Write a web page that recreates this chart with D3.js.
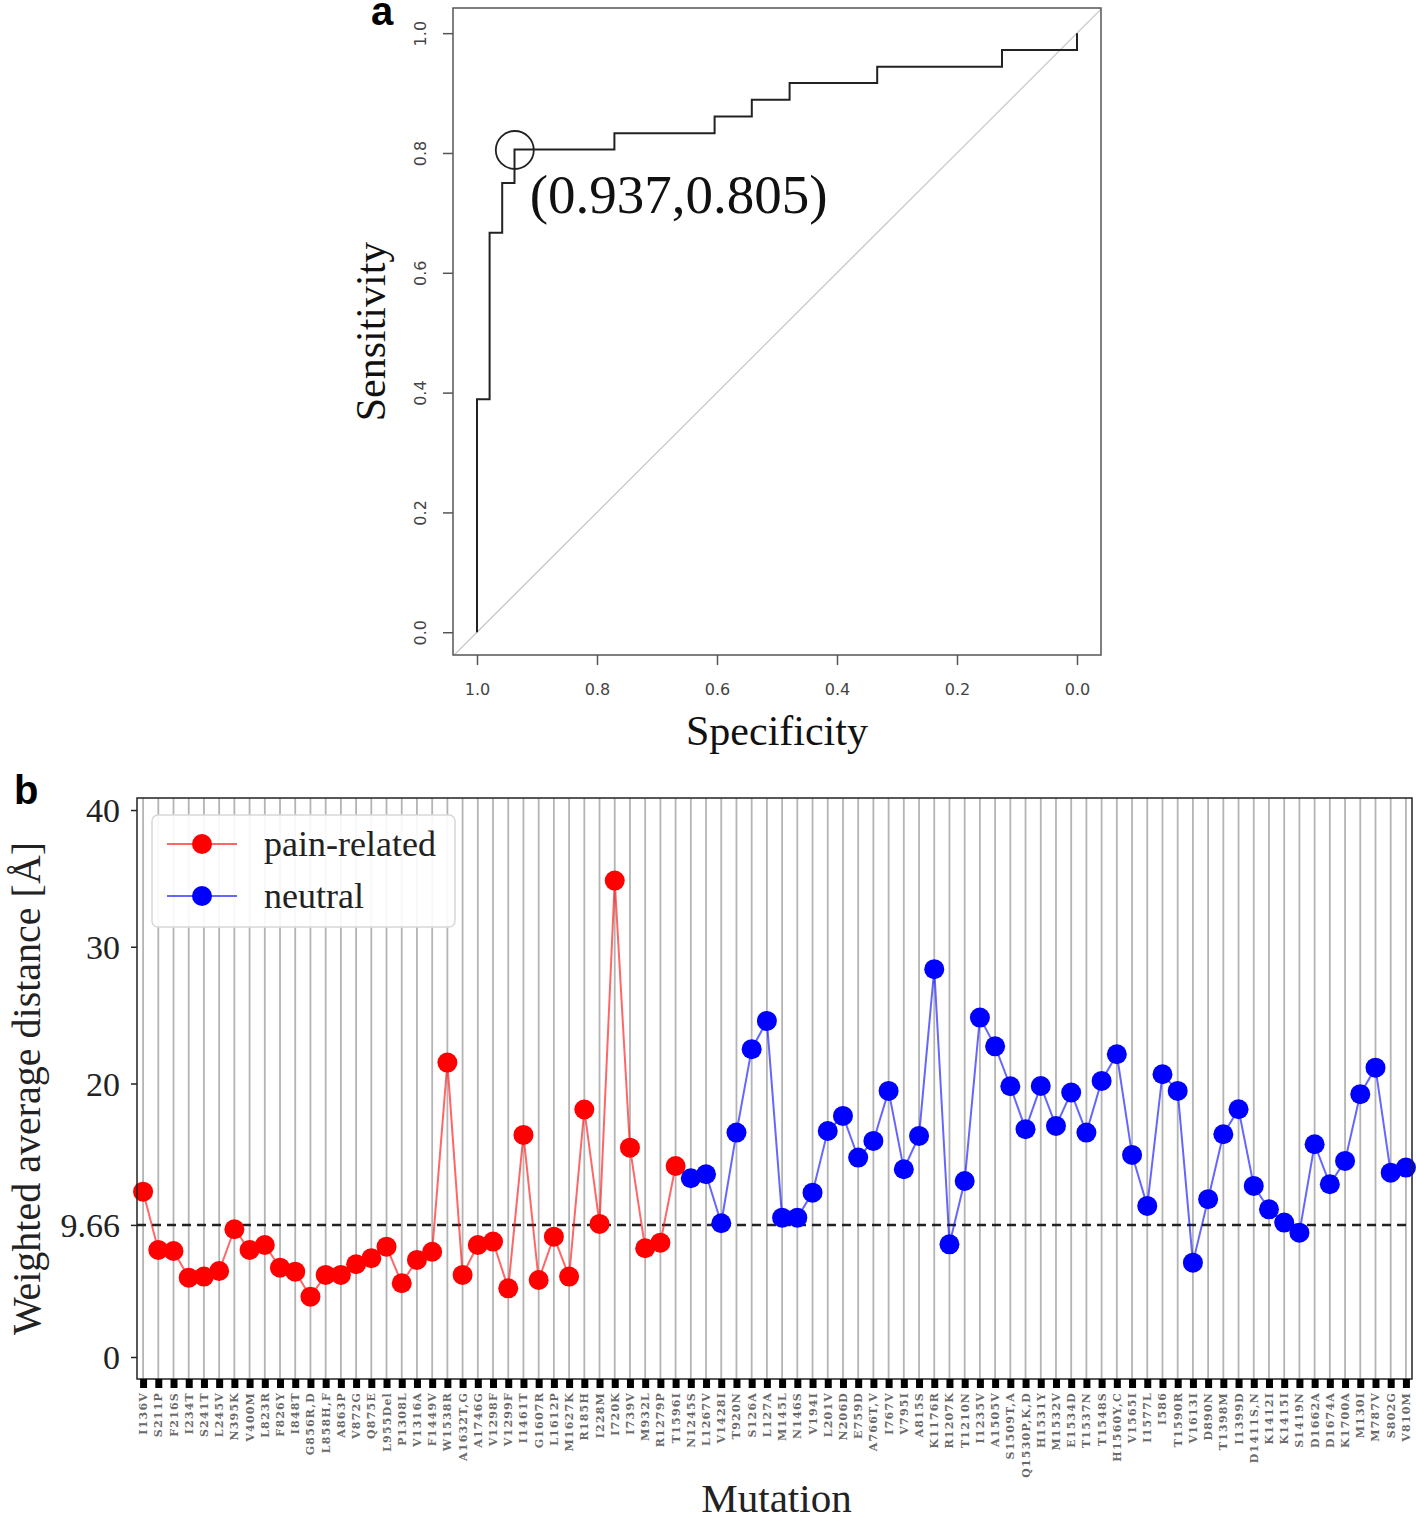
<!DOCTYPE html>
<html><head><meta charset="utf-8">
<script src="https://cdn.jsdelivr.net/npm/d3@7"></script>
<style>body{margin:0;background:#fff}svg{display:block}</style>
</head><body><svg id="c" width="1416" height="1523"></svg>
<script>
// ---------- Data ----------
const painLabels = ["I136V","S211P","F216S","I234T","S241T","L245V","N395K","V400M","L823R","F826Y","I848T","G856R,D","L858H,F","A863P","V872G","Q875E","L955Del","P1308L","V1316A","F1449V","W1538R","A1632T,G","A1746G","V1298F","V1299F","I1461T","G1607R","L1612P","M1627K","R185H","I228M","I720K","I739V","M932L","R1279P","T1596I"];
const painValues = [12.09,7.83,7.75,5.80,5.88,6.29,9.34,7.83,8.19,6.53,6.24,4.41,6.00,6.00,6.78,7.22,8.07,5.39,7.10,7.70,21.53,6.00,8.19,8.44,5.02,16.24,5.63,8.80,5.88,18.10,9.73,34.84,15.31,7.95,8.36,13.97];
const neutralLabels = ["N1245S","L1267V","V1428I","T920N","S126A","L127A","M145L","N146S","V194I","L201V","N206D","E759D","A766T,V","I767V","V795I","A815S","K1176R","R1207K","T1210N","I1235V","A1505V","S1509T,A","Q1530P,K,D","H1531Y","M1532V","E1534D","T1537N","T1548S","H1560Y,C","V1565I","I1577L","I586","T1590R","V1613I","D890N","T1398M","I1399D","D1411S,N","K1412I","K1415I","S1419N","D1662A","D1674A","K1700A","M130I","M787V","S802G","V810M"];
const neutralValues = [13.07,13.36,9.78,16.41,22.51,24.58,10.19,10.19,12.02,16.53,17.63,14.58,15.80,19.46,13.73,16.17,28.36,8.24,12.87,24.82,22.72,19.80,16.66,19.82,16.90,19.34,16.41,20.19,22.14,14.78,11.05,20.68,19.46,6.90,11.54,16.29,18.12,12.51,10.80,9.83,9.09,15.56,12.63,14.34,19.22,21.16,13.48,13.85];
const distTicks = [0, 9.66, 20, 30, 40];
const threshold = 9.66;

const rocSpecificity = [1.0,1.0,0.979,0.979,0.958,0.958,0.9375,0.9375,0.771,0.771,0.604,0.604,0.542,0.542,0.479,0.479,0.333,0.333,0.125,0.125,0.0,0.0];
const rocSensitivity = [0.0,0.389,0.389,0.667,0.667,0.75,0.75,0.806,0.806,0.833,0.833,0.861,0.861,0.889,0.889,0.917,0.917,0.944,0.944,0.972,0.972,1.0];
const optimumSpec = 0.937, optimumSens = 0.805;
const rocTicks = [1.0,0.8,0.6,0.4,0.2,0.0];

const svg = d3.select("#c");
const serif = "'Liberation Serif','Times New Roman',serif";
const sans = "'DejaVu Sans',sans-serif";

// ---------- Panel a ----------
const A = {l:453, r:1101, t:8, b:655};
const xA = d3.scaleLinear().domain([1.04,-0.04]).range([A.l,A.r]);
const yA = d3.scaleLinear().domain([-0.038,1.042]).range([A.b,A.t]);
const ga = svg.append("g");

ga.append("clipPath").attr("id","clipA").append("rect").attr("x",A.l).attr("y",A.t).attr("width",A.r-A.l).attr("height",A.b-A.t);
// diagonal
ga.append("line").attr("x1",xA(1.04)).attr("y1",yA(-0.04)).attr("x2",xA(-0.04)).attr("y2",yA(1.04))
  .attr("stroke","#c8c8c8").attr("stroke-width",1.3).attr("clip-path","url(#clipA)");

// ROC curve
const rocPts = rocSpecificity.map((s,i)=>[s,rocSensitivity[i]]);
ga.append("path").datum(rocPts)
  .attr("d", d3.line().x(d=>xA(d[0])).y(d=>yA(d[1])))
  .attr("fill","none").attr("stroke","#222").attr("stroke-width",2);

// optimum circle + label
ga.append("circle").attr("cx",xA(optimumSpec)).attr("cy",yA(optimumSens)).attr("r",19)
  .attr("fill","none").attr("stroke","#222").attr("stroke-width",1.8);
ga.append("text").attr("x",xA(optimumSpec)+15).attr("y",yA(optimumSens)+63)
  .attr("font-family",serif).attr("font-size",55).attr("fill","#111")
  .text(`(${optimumSpec},${optimumSens})`);

// frame
ga.append("rect").attr("x",A.l).attr("y",A.t).attr("width",A.r-A.l).attr("height",A.b-A.t)
  .attr("fill","none").attr("stroke","#555").attr("stroke-width",1.5);

// axes
const axAx = ga.append("g").attr("transform",`translate(0,${A.b})`)
  .call(d3.axisBottom(xA).tickValues(rocTicks).tickFormat(d3.format(".1f")).tickSize(10).tickPadding(19));
axAx.select(".domain").remove();
axAx.selectAll("line").attr("stroke","#555").attr("stroke-width",1.5);
axAx.selectAll("text").attr("font-family",sans).attr("font-size",16).attr("fill","#444");

const ayAx = ga.append("g").attr("transform",`translate(${A.l},0)`)
  .call(d3.axisLeft(yA).tickValues(rocTicks).tickFormat(d3.format(".1f")).tickSize(10));
ayAx.select(".domain").remove();
ayAx.selectAll("line").attr("stroke","#555").attr("stroke-width",1.5);
ayAx.selectAll("text").attr("x",null).attr("dy",null).attr("text-anchor","middle")
  .attr("transform","translate(-27,0) rotate(-90)")
  .attr("font-family",sans).attr("font-size",16).attr("fill","#444");

ga.append("text").attr("transform",`translate(385,${(A.t+A.b)/2}) rotate(-90)`)
  .attr("text-anchor","middle").attr("font-family",serif).attr("font-size",42).attr("fill","#111").text("Sensitivity");
ga.append("text").attr("x",(A.l+A.r)/2).attr("y",745)
  .attr("text-anchor","middle").attr("font-family",serif).attr("font-size",42).attr("fill","#111").text("Specificity");
ga.append("text").attr("x",371).attr("y",25).attr("font-family","'Liberation Sans',Arial,sans-serif")
  .attr("font-weight","bold").attr("font-size",40).attr("fill","#000").text("a");

// ---------- Panel b ----------
const B = {l:137, r:1412, t:798, b:1379};
const allLabels = painLabels.concat(neutralLabels);
const nAll = allLabels.length;
const xB = d3.scaleLinear().domain([-0.4, nAll-1+0.4]).range([B.l,B.r]);
const yB = d3.scaleLinear().domain([-1.61, 40.88]).range([B.b,B.t]);
const gb = svg.append("g");

// vertical grid
gb.append("g").selectAll("line").data(d3.range(nAll)).join("line")
  .attr("x1",d=>xB(d)).attr("x2",d=>xB(d)).attr("y1",B.t).attr("y2",B.b)
  .attr("stroke","#b4b4b4").attr("stroke-width",1.8);

// threshold
gb.append("line").attr("x1",B.l).attr("x2",B.r).attr("y1",yB(threshold)).attr("y2",yB(threshold))
  .attr("stroke","#222").attr("stroke-width",2.5).attr("stroke-dasharray","9,6");

const painData = painValues.map((v,i)=>({i, v}));
const neutralData = neutralValues.map((v,i)=>({i:i+painValues.length, v}));
const lineB = d3.line().x(d=>xB(d.i)).y(d=>yB(d.v));

function series(data,color){
  gb.append("path").datum(data).attr("d",lineB).attr("fill","none")
    .attr("stroke",color).attr("stroke-opacity",0.6).attr("stroke-width",2);
  gb.append("g").selectAll("circle").data(data).join("circle")
    .attr("cx",d=>xB(d.i)).attr("cy",d=>yB(d.v)).attr("r",10).attr("fill",color);
}
series(painData,"#ff0000");
series(neutralData,"#0000ff");

// frame
gb.append("rect").attr("x",B.l).attr("y",B.t).attr("width",B.r-B.l).attr("height",B.b-B.t)
  .attr("fill","none").attr("stroke","#222").attr("stroke-width",1.5);

// x ticks and labels
const bxAx = gb.append("g").attr("transform",`translate(0,${B.b})`)
  .call(d3.axisBottom(xB).tickValues(d3.range(nAll)).tickFormat(i=>allLabels[i]).tickSize(9).tickSizeOuter(0));
bxAx.select(".domain").remove();
bxAx.selectAll("line").attr("stroke","#000").attr("stroke-width",7);
bxAx.selectAll("text").attr("y",null).attr("dy",null).attr("text-anchor","end")
  .attr("dominant-baseline","central")
  .attr("transform","translate(0,13) rotate(-90)")
  .attr("font-family","'DejaVu Serif',serif").attr("font-size",11).attr("font-weight","bold")
  .attr("letter-spacing","1.2px").attr("fill","#6a6a6a");

// y axis
const byAx = gb.append("g").attr("transform",`translate(${B.l},0)`)
  .call(d3.axisLeft(yB).tickValues(distTicks).tickFormat(d=>String(d)).tickSize(6).tickPadding(11));
byAx.select(".domain").remove();
byAx.selectAll("line").attr("stroke","#222").attr("stroke-width",1.5);
byAx.selectAll("text").attr("dy",null).attr("dominant-baseline","central")
  .attr("font-family",serif).attr("font-size",34).attr("fill","#222");

gb.append("text").attr("transform",`translate(40,${(B.t+B.b)/2}) rotate(-90)`)
  .attr("text-anchor","middle").attr("font-family",serif).attr("font-size",40).attr("fill","#222")
  .text("Weighted average distance [Å]");
gb.append("text").attr("x",(B.l+B.r)/2+2).attr("y",1512).attr("text-anchor","middle")
  .attr("font-family",serif).attr("font-size",41).attr("fill","#222").text("Mutation");
gb.append("text").attr("x",14).attr("y",804).attr("font-family","'Liberation Sans',Arial,sans-serif")
  .attr("font-weight","bold").attr("font-size",40).attr("fill","#000").text("b");

// legend
const lg = gb.append("g");
lg.append("rect").attr("x",152).attr("y",815).attr("width",303).attr("height",112).attr("rx",6)
  .attr("fill","#fff").attr("fill-opacity",0.9).attr("stroke","#d8d8d8").attr("stroke-width",1.5);
const legendItems = [{name:"pain-related",color:"#ff0000",y:844},{name:"neutral",color:"#0000ff",y:896}];
legendItems.forEach(it=>{
  lg.append("line").attr("x1",167).attr("x2",237).attr("y1",it.y).attr("y2",it.y)
    .attr("stroke",it.color).attr("stroke-opacity",0.6).attr("stroke-width",2);
  lg.append("circle").attr("cx",202).attr("cy",it.y).attr("r",10).attr("fill",it.color);
  lg.append("text").attr("x",264).attr("y",it.y).attr("dominant-baseline","central")
    .attr("font-family",serif).attr("font-size",36).attr("fill","#222").text(it.name);
});
</script></body></html>
